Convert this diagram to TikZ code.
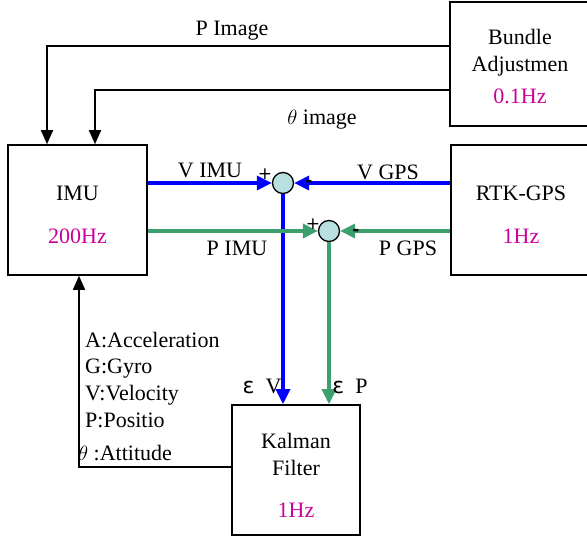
\documentclass[tikz,border=0pt]{standalone}
\usepackage{fontspec}
\setmainfont{Liberation Serif}
\newfontfamily\grk{DejaVu Sans}
\usetikzlibrary{arrows.meta}

\begin{document}
\begin{tikzpicture}[x=1pt, y=-1pt,
    box/.style={draw, line width=1.6pt, inner sep=0pt},
    txt/.style={align=center, inner sep=0pt, font=\fontsize{22}{27}\selectfont},
    lbl/.style={font=\fontsize{22}{26}\selectfont, inner sep=0pt},
    sgn/.style={font=\grk\fontsize{17}{17}\selectfont, inner sep=0pt},
    sumpt/.style={circle, draw, line width=1.3pt, fill=sumfill,
                  minimum size=21pt, inner sep=0pt},
    vflow/.style={draw=vblue, line width=3.3pt, -{Triangle[length=15pt, width=14pt]}},
    pflow/.style={draw=pgreen, line width=3.3pt, -{Triangle[length=15pt, width=14pt]}},
    fb/.style={line width=1.6pt, -{Triangle[length=14pt, width=12pt]}},
]

% Colors
\definecolor{vblue}{HTML}{0000FF}
\definecolor{pgreen}{HTML}{3CA06E}
\definecolor{sumfill}{HTML}{B8E0E0}
\definecolor{hz}{HTML}{CC0099}

\useasboundingbox (0,0) rectangle (587,539);
\clip (0,0) rectangle (587,539);

% === Blocks ===
\node[box, minimum width=140pt, minimum height=124pt] (ba) at (520,64) {};
\node[box, minimum width=139pt, minimum height=130pt] (imu) at (77.5,210) {};
\node[box, minimum width=140pt, minimum height=130pt] (rtk) at (521,210) {};
\node[box, minimum width=128pt, minimum height=130pt] (kf) at (296,470) {};

\node[txt] (bat)  at ([yshift=-3pt]ba.center)
    {Bundle\\Adjustmen\\[5pt]\textcolor{hz}{0.1Hz}};
\node[txt] (imut) at ([yshift=-5pt]imu.center)
    {IMU\\[16pt]\textcolor{hz}{200Hz}};
\node[txt] (rtkt) at ([yshift=-5pt]rtk.center)
    {RTK-GPS\\[16pt]\textcolor{hz}{1Hz}};
\node[txt] (kft)  at ([yshift=-5pt]kf.center)
    {Kalman\\Filter\\[15pt]\textcolor{hz}{1Hz}};

% === Summing points ===
\node[sumpt] (s1) at (283,183) {};
\node[sumpt] (s2) at (329,231) {};

% === Velocity / position paths ===
\draw[vflow] (imu.east |- s1) -- (s1);
\draw[vflow] (rtk.west |- s1) -- (s1);
\draw[vflow] (s1) -- (s1 |- kf.north);
\draw[pflow] (imu.east |- s2) -- (s2);
\draw[pflow] (rtk.west |- s2) -- (s2);
\draw[pflow] (s2) -- (s2 |- kf.north);

% === Image feedback and filter output ===
\draw[fb] ([yshift=18pt]ba.west) -| ([xshift=-30.5pt]imu.north);
\draw[fb] ([yshift=-26pt]ba.west) -| ([xshift=17.5pt]imu.north);
\draw[fb] ([yshift=3pt]kf.west) -| ([xshift=1.5pt]imu.south);

% === Labels ===
\node[lbl] (pimg)  at (232,31)  {P Image};
\node[lbl] (thimg) at (322,120) {$\theta$\ image};
\node[lbl] (vimu)  at (210,170) {V IMU};
\node[lbl] (vgps)  at (388,172) {V GPS};
\node[lbl] (pimu)  at (237,248) {P IMU};
\node[lbl] (pgps)  at (408,248) {P GPS};
\node[sgn] (p1) at (265,174) {+};
\node[sgn, font=\grk\bfseries\fontsize{17}{17}\selectfont] (m1) at (309,183) {-};
\node[sgn] (p2) at (313,224) {+};
\node[sgn, font=\grk\bfseries\fontsize{17}{17}\selectfont] (m2) at (356,232) {-};
\node[lbl] (ev) at (262,386) {{\grk ε}\ \ V};
\node[lbl] (ep) at (350,386) {{\grk ε}\ \ P};

% === Legend ===
\node[lbl, anchor=base west] (la) at (85,347) {A:Acceleration};
\node[lbl, anchor=base west] (lg) at (85,373) {G:Gyro};
\node[lbl, anchor=base west] (lv) at (85,400) {V:Velocity};
\node[lbl, anchor=base west] (lp) at (85,427) {P:Positio};
\node[lbl, anchor=base west] (lt) at (78,460) {$\theta$ :Attitude};
\end{tikzpicture}
\end{document}
